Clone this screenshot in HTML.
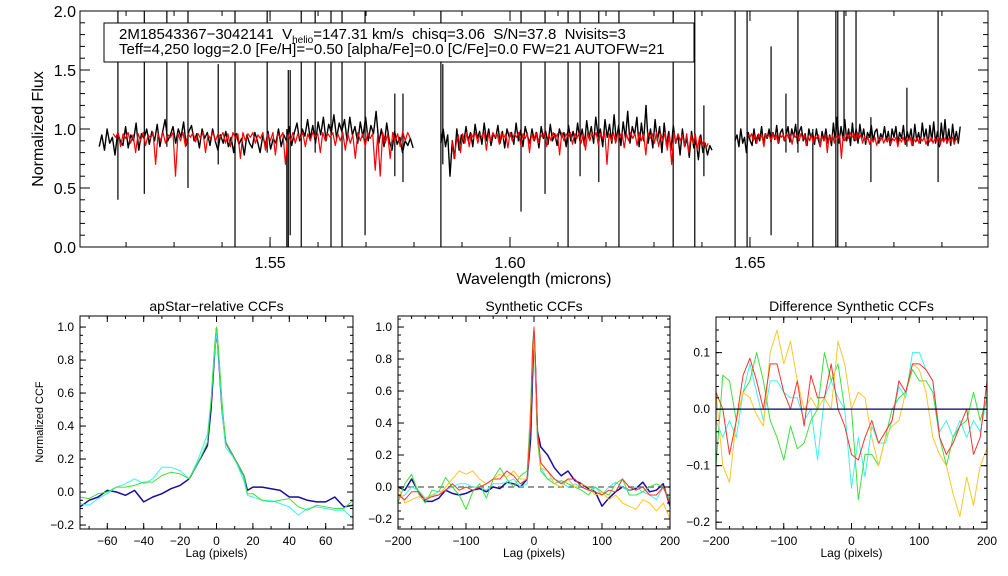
<!DOCTYPE html>
<html><head><meta charset="utf-8"><style>
html,body{margin:0;padding:0;background:#fff}
svg{display:block;font-family:"Liberation Sans",sans-serif}
</style></head><body>
<svg id="fig" width="1008" height="576" viewBox="0 0 1008 576"></svg>
<script>
// ---------- data: spectrum ----------
const chipRanges=[[1.5144,1.5798],[1.5856,1.6421],[1.6469,1.6938]];
const modelRanges=[[1.5173,1.5792],[1.5879,1.6413],[1.6496,1.6933]];
const obsFlux1=[0.85,0.95,0.82,1.0,0.88,0.93,0.78,0.97,0.9,0.86,1.02,0.84,0.95,0.9,1.05,0.82,0.96,0.92,1.0,0.87,0.98,0.9,1.04,0.85,0.97,1.08,0.9,0.95,1.02,0.88,1.0,0.93,1.06,0.86,0.98,1.03,0.9,0.96,0.84,1.0,0.92,0.97,0.86,1.0,0.9,0.82,0.95,0.88,0.98,0.85,0.93,0.8,0.96,0.87,0.92,0.78,0.95,0.88,0.84,0.97,0.9,0.8,0.94,0.86,0.98,0.83,0.92,0.88,1.0,0.85,0.95,0.9,1.02,0.86,0.97,1.05,0.9,1.0,0.94,1.08,0.92,1.03,0.88,1.06,0.95,1.1,0.9,1.04,0.97,1.12,0.92,1.05,0.98,1.08,0.9,1.1,0.95,1.02,0.88,1.06,0.93,1.1,0.9,1.03,0.96,1.15,0.88,1.0,0.85,1.05,0.9,0.82,0.98,0.87,0.93,0.8,0.9,0.86,0.92,0.84];
const obsFlux2=[0.88,1.0,0.85,0.95,0.6,0.9,0.75,1.0,0.82,0.95,0.88,1.02,0.9,0.97,0.85,1.04,0.92,0.98,0.87,1.05,0.9,1.0,0.86,0.96,0.92,1.03,0.88,0.98,0.84,1.0,0.93,0.97,0.87,1.05,0.9,0.99,0.85,1.02,0.94,0.88,1.0,0.9,0.97,0.84,1.02,0.92,0.98,0.87,1.04,0.9,0.96,0.86,1.0,0.93,0.97,0.85,1.03,0.9,0.98,0.88,1.05,0.9,1.0,0.86,1.07,0.92,1.02,0.88,1.1,0.94,1.0,0.85,1.08,0.93,1.04,0.88,1.12,0.9,1.03,0.86,1.06,0.92,1.15,0.88,1.02,0.95,1.1,0.85,1.05,0.9,1.2,0.88,1.0,0.84,1.08,0.9,1.02,0.8,1.05,0.86,0.98,0.82,1.03,0.88,0.95,0.78,1.0,0.85,0.92,0.76,0.98,0.84,0.9,0.74,0.95,0.8,0.88,0.78,0.86,0.82];
const obsFlux3=[0.9,0.95,0.85,1.0,0.88,0.93,0.8,0.97,0.9,0.86,1.0,0.88,0.95,0.9,1.02,0.87,0.96,0.92,1.0,0.89,0.97,0.91,1.03,0.88,0.97,1.0,0.9,0.95,1.02,0.89,1.0,0.93,1.04,0.88,0.98,1.02,0.9,0.96,0.86,1.0,0.93,0.97,0.87,1.0,0.91,0.85,0.98,0.9,1.0,0.88,0.95,0.86,1.05,0.9,1.1,0.88,1.02,0.92,1.08,0.9,1.0,0.86,1.05,0.9,1.0,0.88,1.04,0.92,1.0,0.87,0.97,0.93,1.03,0.9,0.98,1.0,0.88,0.96,0.92,1.02,0.9,0.98,0.86,1.0,0.93,1.02,0.88,0.97,0.92,1.03,0.87,0.98,0.91,1.0,0.86,1.04,0.9,0.97,0.88,1.05,0.92,1.0,0.86,1.03,0.9,1.06,0.88,0.98,0.85,1.05,0.9,1.08,0.88,1.0,0.86,1.04,0.9,0.98,0.88,1.02];
const modelFlux1=[0.96,0.93,0.97,0.85,0.96,0.92,0.97,0.88,0.95,0.8,0.96,0.9,0.97,0.86,0.95,0.92,0.97,0.7,0.96,0.9,0.97,0.88,0.95,0.93,0.97,0.6,0.96,0.9,0.97,0.85,0.96,0.93,0.97,0.89,0.96,0.92,0.97,0.8,0.95,0.92,0.97,0.9,0.96,0.93,0.97,0.88,0.96,0.85,0.97,0.92,0.96,0.75,0.97,0.9,0.96,0.93,0.97,0.88,0.95,0.92,0.97,0.82,0.96,0.9,0.97,0.78,0.96,0.93,0.97,0.7,0.95,0.9,0.97,0.88,0.96,0.92,0.97,0.85,0.96,0.9,0.97,0.93,0.96,0.8,0.97,0.9,0.96,0.93,0.97,0.86,0.96,0.9,0.97,0.82,0.96,0.88,0.95,0.75,0.97,0.9,0.96,0.85,0.97,0.92,0.96,0.65,0.95,0.6,0.97,0.88,0.96,0.75,0.97,0.9,0.96,0.85,0.98,0.9,0.97,0.92];
const modelFlux2=[0.9,0.75,0.88,0.95,0.8,0.96,0.88,0.97,0.85,0.96,0.92,0.97,0.88,0.96,0.93,0.97,0.82,0.96,0.9,0.97,0.93,0.96,0.87,0.97,0.92,0.96,0.84,0.97,0.9,0.96,0.93,0.97,0.86,0.96,0.92,0.97,0.8,0.96,0.9,0.97,0.88,0.96,0.93,0.97,0.85,0.96,0.9,0.97,0.92,0.96,0.78,0.97,0.9,0.96,0.93,0.97,0.87,0.96,0.92,0.97,0.88,0.96,0.82,0.97,0.9,0.96,0.93,0.97,0.86,0.96,0.92,0.97,0.7,0.96,0.9,0.97,0.88,0.96,0.93,0.97,0.84,0.96,0.9,0.97,0.92,0.96,0.86,0.97,0.9,0.96,0.78,0.97,0.92,0.96,0.88,0.97,0.85,0.96,0.9,0.97,0.82,0.96,0.7,0.97,0.88,0.96,0.9,0.95,0.85,0.96,0.8,0.95,0.88,0.96,0.82,0.94,0.86,0.9,0.84,0.88];
const modelFlux3=[0.95,0.93,0.96,0.9,0.95,0.88,0.96,0.92,0.95,0.85,0.96,0.93,0.95,0.9,0.96,0.92,0.95,0.88,0.96,0.93,0.95,0.9,0.96,0.92,0.95,0.87,0.96,0.93,0.95,0.9,0.96,0.92,0.95,0.86,0.94,0.9,0.95,0.88,0.94,0.92,0.95,0.85,0.94,0.9,0.95,0.8,0.94,0.9,0.95,0.88,0.94,0.92,0.95,0.75,0.94,0.9,0.96,0.92,0.97,0.93,0.96,0.9,0.97,0.92,0.95,0.88,0.94,0.9,0.93,0.87,0.92,0.89,0.93,0.86,0.92,0.9,0.93,0.88,0.92,0.89,0.93,0.87,0.92,0.9,0.93,0.85,0.92,0.89,0.93,0.88,0.92,0.9,0.93,0.86,0.92,0.89,0.93,0.88,0.92,0.9,0.93,0.87,0.92,0.89,0.93,0.88,0.92,0.9,0.93,0.86,0.92,0.89,0.93,0.88,0.92,0.9,0.93,0.87,0.92,0.9];
const spikeWave=[1.5183,1.5238,1.5285,1.5329,1.5392,1.5427,1.5494,1.5535,1.5538,1.5542,1.5565,1.5594,1.5627,1.5650,1.5698,1.5760,1.5777,1.5856,1.5860,1.6023,1.6073,1.6121,1.6146,1.6185,1.6227,1.6340,1.6385,1.6404,1.6469,1.6494,1.6544,1.6575,1.6600,1.6631,1.6679,1.6683,1.6696,1.6721,1.6752,1.6827,1.6892];
const spikeHigh=[2.1,2.1,2.1,2.1,1.55,2.1,2.1,1.0,1.5,1.5,2.1,2.1,2.1,2.1,2.1,1.3,1.3,2.1,1.55,2.1,2.1,2.1,2.1,2.1,2.1,2.1,2.1,1.2,2.1,2.1,1.7,1.3,2.1,1.0,2.1,2.1,2.1,2.1,1.1,1.35,2.1];
const spikeLow=[0.4,0.45,0.85,0.5,0.7,-0.1,0.8,-0.1,-0.1,0.1,-0.1,0.8,-0.1,-0.1,0.1,0.6,0.55,-0.1,0.7,0.3,0.45,-0.1,0.6,0.55,-0.1,-0.1,-0.1,0.6,-0.1,-0.1,0.1,0.8,0.8,-0.1,-0.1,-0.1,0.9,0.9,0.55,0.85,0.55];
const specXTicks=[1.55,1.60,1.65];
const specYTicks=[0.0,0.5,1.0,1.5,2.0];
// ---------- data: CCFs ----------
const lagA=[-75,-70,-65,-60,-55,-50,-45,-40,-35,-30,-25,-20,-15,-10,-5,-3,-1,0,1,3,5,10,15,17,20,25,30,35,40,45,50,55,60,65,70,75];
const ccfA_navy=[-0.09,-0.05,-0.03,0.01,0.0,-0.02,0.01,-0.06,-0.03,-0.01,0.02,0.04,0.08,0.18,0.28,0.5,0.85,0.99,0.85,0.5,0.3,0.2,0.1,0.01,0.03,0.03,0.02,0.01,-0.03,-0.03,-0.05,-0.06,-0.06,-0.03,-0.09,-0.08];
const ccfA_cyan=[-0.07,-0.08,-0.04,-0.01,0.03,0.05,0.08,0.05,0.08,0.15,0.15,0.13,0.08,0.2,0.35,0.55,0.85,0.97,0.85,0.5,0.27,0.2,0.07,-0.02,-0.03,-0.05,-0.05,-0.07,-0.09,-0.14,-0.1,-0.09,-0.1,-0.11,-0.11,-0.16];
const ccfA_green=[-0.03,-0.04,-0.01,0.0,0.03,0.03,0.04,0.06,0.06,0.1,0.12,0.11,0.08,0.18,0.3,0.55,0.9,1.0,0.88,0.55,0.3,0.2,0.1,-0.01,-0.01,-0.05,-0.06,-0.05,-0.04,-0.09,-0.11,-0.08,-0.09,-0.1,-0.1,-0.05];
const lagB=[-200,-190,-180,-170,-160,-150,-140,-130,-120,-110,-100,-90,-80,-70,-60,-50,-40,-30,-20,-10,-5,-2,0,2,5,10,20,30,40,50,60,70,80,90,100,110,120,130,140,150,160,170,180,190,200];
const ccfB_navy=[0.0,-0.02,0.05,-0.03,-0.09,-0.09,-0.07,-0.02,-0.04,-0.05,-0.04,-0.02,-0.01,-0.03,0.0,-0.01,0.03,0.02,0.0,0.05,0.3,0.7,0.97,0.75,0.35,0.25,0.2,0.12,0.07,0.1,0.04,0.02,-0.01,-0.03,-0.12,-0.07,-0.03,0.0,-0.02,-0.01,0.03,-0.03,-0.02,0.02,-0.12];
const ccfB_cyan=[-0.07,-0.05,0.0,-0.02,-0.07,-0.05,-0.03,-0.02,0.0,0.02,0.02,0.0,0.0,-0.02,0.02,0.02,0.03,0.05,0.0,0.02,0.4,0.8,0.95,0.7,0.3,0.12,0.05,0.05,0.03,0.0,0.02,0.0,-0.02,0.0,-0.05,0.0,0.03,0.0,-0.02,0.0,-0.03,-0.05,-0.08,0.0,-0.1];
const ccfB_green=[-0.1,0.02,0.08,-0.04,-0.1,-0.02,-0.03,0.06,0.0,-0.05,-0.14,-0.03,0.02,-0.07,0.05,0.12,0.05,0.0,0.07,0.1,0.5,0.9,0.98,0.7,0.3,0.1,0.05,0.02,0.04,0.02,0.0,-0.02,-0.05,0.0,-0.03,-0.05,0.02,0.05,-0.05,-0.05,-0.03,0.0,0.02,0.0,-0.08];
const ccfB_yellow=[0.0,-0.1,-0.08,-0.06,-0.08,-0.05,-0.05,0.0,0.05,0.1,0.08,0.1,0.05,0.02,0.05,0.08,0.06,0.1,0.05,0.05,0.45,0.8,0.95,0.75,0.35,0.12,0.1,0.02,0.0,0.05,0.0,0.02,0.0,-0.05,-0.03,-0.08,-0.05,-0.1,-0.12,-0.14,-0.08,-0.1,-0.15,-0.1,-0.2];
const ccfB_red=[-0.05,-0.08,-0.03,-0.03,-0.08,-0.06,-0.05,-0.02,0.02,-0.02,0.0,-0.02,0.0,0.02,0.05,0.05,0.1,0.07,0.02,0.05,0.4,0.85,1.0,0.8,0.35,0.15,0.1,0.05,0.02,0.05,0.05,0.0,-0.02,-0.03,-0.05,-0.02,-0.03,0.05,0.0,-0.02,0.0,-0.05,-0.05,0.0,-0.1];
const lagC=[-200,-190,-180,-170,-160,-150,-140,-130,-120,-110,-100,-90,-80,-70,-60,-50,-40,-30,-20,-10,0,10,20,30,40,50,60,70,80,90,100,110,120,130,140,150,160,170,180,190,200];
const diff_navy=[0,0,0,0,0,0,0,0,0,0,0,0,0,0,0,0,0,0,0,0,0,0,0,0,0,0,0,0,0,0,0,0,0,0,0,0,0,0,0,0,0];
const diff_cyan=[-0.02,-0.05,-0.02,-0.05,0.03,0.08,0.03,-0.02,0.05,0.05,0.03,0.02,0.02,-0.02,0.0,-0.09,0.02,0.05,0.02,0.0,-0.14,-0.05,-0.12,-0.03,-0.06,-0.06,-0.02,0.04,0.02,0.1,0.1,0.07,0.05,-0.04,-0.02,-0.05,-0.02,-0.05,-0.02,-0.04,0.02];
const diff_green=[-0.1,0.06,0.05,-0.02,0.03,0.05,0.1,0.05,-0.02,-0.05,-0.09,-0.03,-0.07,-0.06,-0.02,0.0,0.1,0.05,0.08,0.0,0.0,-0.16,-0.08,-0.08,-0.1,-0.05,0.0,0.02,0.03,0.07,0.05,0.05,0.03,-0.05,-0.1,-0.05,-0.03,-0.02,0.03,-0.02,0.02];
const diff_yellow=[0.03,-0.1,-0.13,-0.02,0.03,0.02,-0.01,-0.03,0.1,0.14,0.08,0.12,0.05,0.0,0.02,0.0,0.02,0.0,0.12,0.08,0.0,0.03,0.02,-0.05,-0.1,-0.05,-0.03,-0.02,0.03,0.08,0.07,0.03,-0.05,-0.08,-0.1,-0.15,-0.19,-0.12,-0.17,-0.1,-0.07];
const diff_red=[0.03,0.0,-0.08,-0.02,0.06,0.09,0.05,0.0,0.08,0.08,0.03,0.0,0.05,-0.03,0.06,0.02,0.02,0.08,0.0,-0.03,-0.08,-0.09,-0.05,-0.02,-0.06,-0.04,-0.02,0.05,0.03,0.08,0.08,0.07,0.05,-0.05,-0.08,-0.06,-0.03,0.0,-0.08,-0.05,0.05];
const ticksA_x=[-60,-40,-20,0,20,40,60];
const ticksA_y=[-0.2,0.0,0.2,0.4,0.6,0.8,1.0];
const ticksB_x=[-200,-100,0,100,200];
const ticksC_y=[-0.2,-0.1,0.0,0.1];

const NS='http://www.w3.org/2000/svg';
const svg=document.getElementById('fig');
function mk(tag,attrs,parent){const e=document.createElementNS(NS,tag);for(const k in attrs)e.setAttribute(k,attrs[k]);(parent||svg).appendChild(e);return e;}
function txt(s,x,y,size,anchor,parent,rot){const t=mk('text',{x:x,y:y,'font-size':size,'text-anchor':anchor||'middle',fill:'#000'},parent);if(rot)t.setAttribute('transform','rotate(-90 '+x+' '+y+')');t.textContent=s;return t;}
function fmt(v,d){let s=v.toFixed(d);if(v<-1e-9)s='\u2212'+s.slice(1);return s;}

function panel(name,L,R,T,B,x0,x1,y0,y1){
  const g=mk('g',{});
  
  
  const sx=v=>L+(v-x0)/(x1-x0)*(R-L), sy=v=>B-(v-y0)/(y1-y0)*(B-T);
  const cid='clip-'+name;
  const cp=mk('clipPath',{id:cid},g);mk('rect',{x:L,y:T,width:R-L,height:B-T},cp);
  const plot=mk('g',{'clip-path':'url(#'+cid+')'},g);
  return {g,plot,sx,sy,L,R,T,B};
}
function ticks(p,vals,axis,len){
  vals.forEach(v=>{
    if(axis==='x'){const x=p.sx(v);if(x<p.L-0.5||x>p.R+0.5)return;
      mk('line',{x1:x,x2:x,y1:p.B,y2:p.B-len,stroke:'#000','stroke-width':1},p.g);
      mk('line',{x1:x,x2:x,y1:p.T,y2:p.T+len,stroke:'#000','stroke-width':1},p.g);}
    else{const y=p.sy(v);if(y<p.T-0.5||y>p.B+0.5)return;
      mk('line',{x1:p.L,x2:p.L+len,y1:y,y2:y,stroke:'#000','stroke-width':1},p.g);
      mk('line',{x1:p.R,x2:p.R-len,y1:y,y2:y,stroke:'#000','stroke-width':1},p.g);}
  });
}
function range(a,b,s){const r=[];for(let v=a;v<=b+s/1e3;v+=s)r.push(+v.toFixed(6));return r;}
function frame(p){const r=mk('rect',{x:p.L,y:p.T,width:p.R-p.L,height:p.B-p.T,fill:'none',stroke:'#000','stroke-width':1},p.g);}
function line(p,xs,ys,color,w,name,dash){
  const d=xs.map((x,i)=>(i?'L':'M')+p.sx(x).toFixed(1)+' '+p.sy(ys[i]).toFixed(1)).join('');
  const e=mk('path',{d:d,fill:'none',stroke:color,'stroke-width':w,'stroke-linejoin':'round'},p.plot);
  if(dash)e.setAttribute('stroke-dasharray',dash);
  
  
  return e;
}
function chipX(r,n){const xs=[];for(let i=0;i<n;i++)xs.push(r[0]+(r[1]-r[0])*i/(n-1));return xs;}

// ---------- top spectrum ----------
const P=panel('spectrum-panel',80,988,11,247,1.5104,1.6996,0,2.0);
[obsFlux1,obsFlux2,obsFlux3].forEach((f,i)=>line(P,chipX(chipRanges[i],f.length),f,'#000',1.4,'observed-flux-chip'+(i+1)));
spikeWave.forEach((w,i)=>{const x=P.sx(w);const e=mk('line',{x1:x,x2:x,y1:P.sy(spikeHigh[i]),y2:P.sy(spikeLow[i]),stroke:'#000','stroke-width':1.2},P.plot);
  
  });
[modelFlux1,modelFlux2,modelFlux3].forEach((f,i)=>line(P,chipX(modelRanges[i],f.length),f,'#ff0000',1.2,'model-flux-chip'+(i+1)));
frame(P);
ticks(P,range(1.52,1.69,0.01),'x',5);ticks(P,specXTicks,'x',10);
ticks(P,range(0,2,0.1),'y',5);ticks(P,specYTicks,'y',10);
specXTicks.forEach(v=>{const t=txt(v.toFixed(2),P.sx(v),268,16,'middle');});
specYTicks.forEach(v=>{const t=txt(v.toFixed(1),76,P.sy(v)+6,16,'end');});
{const t=txt('Wavelength (microns)',534,284,16,'middle');}
{const t=txt('Normalized Flux',43,129,16,'middle',null,true);}
// info box
{const g=mk('g',{});
 mk('rect',{x:104,y:23,width:590,height:39,fill:'#fff',stroke:'#000','stroke-width':1},g);
 const t1=mk('text',{x:119,y:39,'font-size':15,fill:'#000'},g);
 t1.innerHTML='2M18543367\u22123042141&#160; V<tspan font-size="10" dy="4">helio</tspan><tspan dy="-4">=147.31 km/s&#160; chisq=3.06&#160; S/N=37.8&#160; Nvisits=3</tspan>';
 
 const t2=txt('Teff=4,250 logg=2.0 [Fe/H]=\u22120.50 [alpha/Fe]=0.0 [C/Fe]=0.0 FW=21 AUTOFW=21',119,54,15,'start',g);
 }

// ---------- CCF panels ----------
const NAVY='#1a0ca0',CYAN='#3ff0f0',GREEN='#3ee03e',YEL='#ffc62a',RED='#ff3030';
function ccfAxes(p,xt,yt,yd,title,tx,xminor,yminor){
  frame(p);
  ticks(p,xminor,'x',3);ticks(p,xt,'x',6);ticks(p,yminor,'y',3);ticks(p,yt,'y',6);
  xt.forEach(v=>{const t=txt(fmt(v,0),p.sx(v),545,12,'middle');});
  yt.forEach(v=>{const t=txt(fmt(v,yd),p.L-6,p.sy(v)+4,12,'end');});
  const a=txt('Lag (pixels)',(p.L+p.R)/2,557,12,'middle');
  const b=txt(title,(p.L+p.R)/2,311,14,'middle');
}
const A=panel('apstar-ccf-panel',80,353,316,529,-75,75,-0.224,1.067);
line(A,lagA,ccfA_navy,NAVY,1.5,'ccf-navy');line(A,lagA,ccfA_cyan,CYAN,1,'ccf-cyan');line(A,lagA,ccfA_green,GREEN,1,'ccf-green');
ccfAxes(A,ticksA_x,ticksA_y,1,'apStar\u2212relative CCFs',0,range(-70,70,10),range(-0.2,1.0,0.05));
{const t=txt('Normalized CCF',43,422,11,'middle',null,true);}

const B=panel('synthetic-ccf-panel',398,670,316,529,-200,200,-0.2625,1.069);
line(B,[-200,200],[0,0],'#777',1.5,'zero-line','6,4');
line(B,lagB,ccfB_navy,NAVY,1.5,'ccf-navy');line(B,lagB,ccfB_cyan,CYAN,1,'ccf-cyan');line(B,lagB,ccfB_green,GREEN,1,'ccf-green');
line(B,lagB,ccfB_yellow,YEL,1,'ccf-yellow');line(B,lagB,ccfB_red,RED,1,'ccf-red');
ccfAxes(B,ticksB_x,ticksA_y,1,'Synthetic CCFs',0,range(-200,200,20),range(-0.25,1.05,0.05));

const C=panel('difference-ccf-panel',716,987,317,529,-200,200,-0.212,0.163);
line(C,lagC,diff_cyan,CYAN,1,'diff-cyan');line(C,lagC,diff_green,GREEN,1,'diff-green');
line(C,lagC,diff_yellow,YEL,1,'diff-yellow');line(C,lagC,diff_red,RED,1,'diff-red');
line(C,lagC,diff_navy,'#000060',1.2,'diff-navy');
ccfAxes(C,ticksB_x,ticksC_y,1,'Difference Synthetic CCFs',0,range(-200,200,20),range(-0.2,0.15,0.02));
</script>
</body></html>
